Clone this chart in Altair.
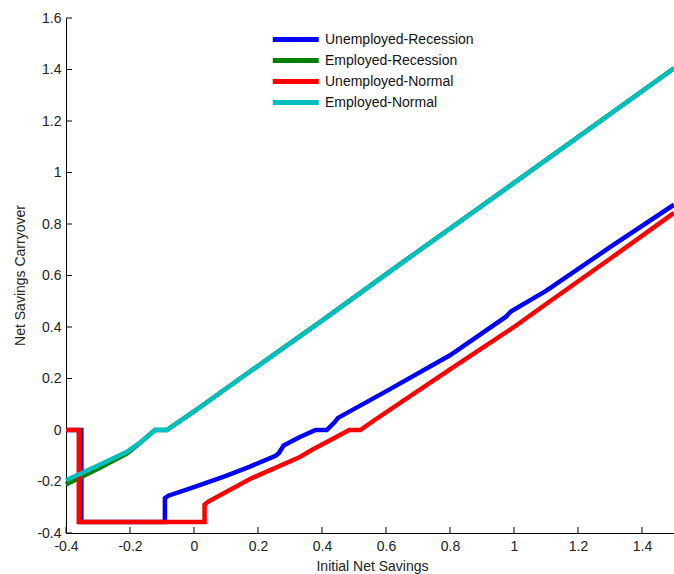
import altair as alt
import pandas as pd

series_names = ["Unemployed-Recession", "Employed-Recession", "Unemployed-Normal", "Employed-Normal"]
series_colors = ["#0000FF", "#008000", "#FF0000", "#00BFBF"]

# Unemployed-Recession (blue)
ur_x = [-0.4, -0.352, -0.352, -0.091, -0.091, -0.08, 0.0, 0.1, 0.175, 0.255, 0.265, 0.28, 0.331, 0.38, 0.415, 0.44, 0.45, 0.6, 0.8, 0.975, 0.99, 1.1, 1.3, 1.5]
ur_y = [0.0, 0.0, -0.357, -0.357, -0.265, -0.255, -0.222, -0.178, -0.142, -0.1, -0.09, -0.06, -0.027, 0.0, 0.0, 0.031, 0.047, 0.15, 0.29, 0.44, 0.46, 0.54, 0.71, 0.875]

# Employed-Recession (green)
er_x = [-0.4, -0.3, -0.21, -0.17, -0.122, -0.085, 0.0, 0.144, 0.4, 0.645, 1.0, 1.5]
er_y = [-0.212, -0.15, -0.092, -0.052, 0.0, 0.0, 0.072, 0.2, 0.425, 0.645, 0.96, 1.405]

# Unemployed-Normal (red)
un_x = [-0.4, -0.36, -0.36, 0.033, 0.033, 0.045, 0.175, 0.331, 0.372, 0.44, 0.485, 0.52, 0.56, 0.8, 1.0, 1.1125, 1.3, 1.5]
un_y = [0.0, 0.0, -0.357, -0.357, -0.29, -0.278, -0.19, -0.105, -0.075, -0.03, 0.0, 0.0, 0.035, 0.235, 0.40, 0.50, 0.665, 0.843]

# Employed-Normal (cyan)
en_x = [-0.4, -0.3, -0.21, -0.17, -0.122, -0.085, 0.0, 0.144, 0.4, 0.645, 1.0, 1.5]
en_y = [-0.195, -0.138, -0.085, -0.05, 0.0, 0.0, 0.072, 0.2, 0.425, 0.645, 0.96, 1.405]

x_ticks = [-0.4, -0.2, 0.0, 0.2, 0.4, 0.6, 0.8, 1.0, 1.2, 1.4]
y_ticks = [-0.4, -0.2, 0.0, 0.2, 0.4, 0.6, 0.8, 1.0, 1.2, 1.4, 1.6]

rows = []
for name, xs, ys in zip(series_names, [ur_x, er_x, un_x, en_x], [ur_y, er_y, un_y, en_y]):
    for i, (a, b) in enumerate(zip(xs, ys)):
        rows.append({"series": name, "x": a, "y": b, "idx": i})
df = pd.DataFrame(rows)

W, H = 608, 515
FONT = "Liberation Sans"
FS = 14

xscale = alt.Scale(domain=[-0.4, 1.5], nice=False, zero=False)
yscale = alt.Scale(domain=[-0.4, 1.6], nice=False, zero=False)

xaxis = alt.Axis(values=x_ticks, title="Initial Net Savings", grid=False, ticks=False, tickSize=0,
                 labelExpr="toString(round(datum.value*10)/10)", labelPadding=6,
                 labelFont=FONT, labelFontSize=FS, labelColor="#222", labelFlush=False,
                 titleFont=FONT, titleFontSize=FS, titleFontWeight="normal", titleColor="#222",
                 titleX=306, titleY=37, titleBaseline="alphabetic", titleAnchor="middle", titleAlign="center",
                 domainColor="#000", domainWidth=1)
yaxis = alt.Axis(values=y_ticks, title="Net Savings Carryover", grid=False, ticks=False, tickSize=0,
                 labelExpr="toString(round(datum.value*10)/10)", labelPadding=5,
                 labelFont=FONT, labelFontSize=FS, labelColor="#222", labelFlush=False,
                 titleFont=FONT, titleFontSize=FS, titleFontWeight="normal", titleColor="#222",
                 titleX=-42, titleY=257, titleBaseline="alphabetic", titleAngle=-90, titleAlign="center",
                 domainColor="#000", domainWidth=1)

color = alt.Color("series:N", scale=alt.Scale(domain=series_names, range=series_colors),
                  sort=series_names,
                  legend=alt.Legend(title=None, orient="none", legendX=204, legendY=13,
                                    symbolType="M-1,0H7", symbolSize=132, symbolStrokeWidth=5,
                                    symbolFillColor="transparent",
                                    labelFont=FONT, labelFontSize=FS, labelColor="#111",
                                    labelOffset=38, rowPadding=0, padding=0))

layers = []
for name in series_names:
    layers.append(
        alt.Chart(df).transform_filter(alt.datum.series == name)
        .mark_line(strokeWidth=4.5, strokeJoin="miter", strokeCap="butt")
        .encode(x=alt.X("x:Q", scale=xscale, axis=xaxis),
                y=alt.Y("y:Q", scale=yscale, axis=yaxis),
                color=color,
                order=alt.Order("idx:Q"))
    )

xt = pd.DataFrame({"t": x_ticks})
yt = pd.DataFrame({"t": y_ticks})
xtick_layer = alt.Chart(xt).mark_rule(color="#000", strokeWidth=1).encode(
    x=alt.X("t:Q", scale=xscale, axis=xaxis), y=alt.value(H), y2=alt.value(H - 6))
ytick_layer = alt.Chart(yt).mark_rule(color="#000", strokeWidth=1).encode(
    y=alt.Y("t:Q", scale=yscale, axis=yaxis), x=alt.value(0), x2=alt.value(6))

chart = alt.layer(xtick_layer, ytick_layer, *layers).properties(
    width=W, height=H,
    autosize=alt.AutoSizeParams(type="none"),
    padding={"left": 66, "top": 18, "right": 0, "bottom": 41},
    background="white",
).configure_view(stroke=None)

chart.save("out.html", embed_options={"renderer": "svg", "actions": False})
